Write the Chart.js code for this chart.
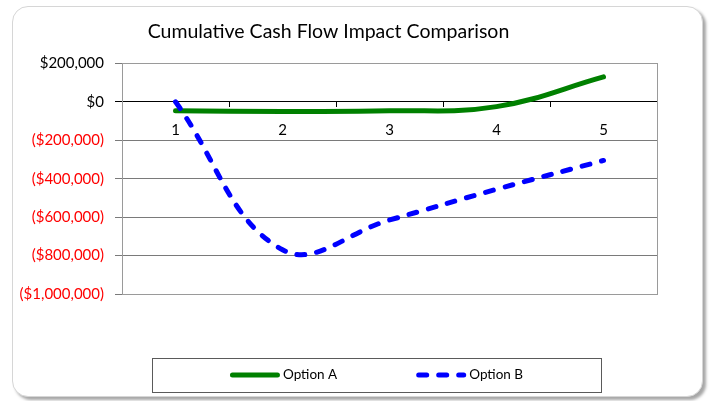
<!DOCTYPE html>
<html>
<head>
<meta charset="utf-8">
<script src="https://cdn.jsdelivr.net/npm/chart.js@4"></script>
<style>
  body { margin: 0; background: #fff; }
  #wrap { position: relative; width: 710px; height: 401px; overflow: hidden; }
  #frame {
    position: absolute; left: 12px; top: 6px; width: 689px; height: 389px;
    border: 1px solid #d6d6d6; border-radius: 16px;
    box-shadow: 3px 3px 3px rgba(0,0,0,0.35); background: #fff;
  }
  #myChart { position: absolute; left: 0; top: 0; }
</style>
</head>
<body>
<div id="wrap">
  <div id="frame"></div>
  <canvas id="myChart" width="710" height="401"></canvas>
</div>
<script>
// chart data
var years = ['1', '2', '3', '4', '5'];
var optionA = [-47000, -50000, -47000, -25000, 130000];
var optionB = [0, -770000, -615000, -455000, -305000];
var seriesNames = ['Option A', 'Option B'];
var yMin = -1000000, yMax = 200000, yStep = 200000;

function money(v) {
    var s = '$' + Math.abs(v).toLocaleString('en-US');
    return v < 0 ? '(' + s + ')' : s;
}

// grey frame round the plot area
var plotFrame = {
    id: 'plotFrame',
    beforeDatasetsDraw(chart) {
        var a = chart.chartArea, ctx = chart.ctx;
        ctx.save();
        ctx.strokeStyle = '#9a9a9a';
        ctx.lineWidth = 1;
        ctx.strokeRect(Math.round(a.left) + 0.5, Math.round(a.top) + 0.5,
            Math.round(a.right - a.left), Math.round(a.bottom - a.top));
        ctx.restore();
    }
};

// excel style legend in a box under the plot (chart.js legend can't dash a line sample)
var boxLegend = {
    id: 'boxLegend',
    afterDraw(chart) {
        var a = chart.chartArea, ctx = chart.ctx;
        var left = Math.round(a.left + 30), right = Math.round(a.right - 56);
        var cy = Math.round(a.bottom + 81);
        ctx.save();
        ctx.strokeStyle = '#5a5a5a';
        ctx.lineWidth = 1;
        ctx.strokeRect(left + 0.5, cy - 17 + 0.5, right - left, 34);

        ctx.font = '13.5px Lato';
        var sample = 50, gap = 3, between = 79;
        var sets = chart.data.datasets;
        var total = 0;
        sets.forEach(function (d, i) {
            total += sample + gap + ctx.measureText(d.label).width + (i ? between : 0);
        });
        var x = (left + right) / 2 - total / 2;
        sets.forEach(function (d) {
            ctx.beginPath();
            ctx.strokeStyle = d.borderColor;
            ctx.lineWidth = d.borderWidth;
            ctx.lineCap = 'round';
            ctx.setLineDash(d.borderDash || []);
            ctx.moveTo(x + 2.5, cy);
            ctx.lineTo(x + sample - 2.5, cy);
            ctx.stroke();
            ctx.setLineDash([]);
            ctx.fillStyle = '#000';
            ctx.textBaseline = 'middle';
            ctx.fillText(d.label, x + sample + gap, cy);
            x += sample + gap + ctx.measureText(d.label).width + between;
        });
        ctx.restore();
    }
};

var ctx = document.getElementById('myChart').getContext('2d');
var myChart = new Chart(ctx, {
    type: 'line',
    data: {
        labels: years,
        datasets: [{
            label: seriesNames[0],
            data: optionA,
            borderColor: '#008000',
            backgroundColor: '#008000',
            borderWidth: 5,
            borderCapStyle: 'round',
            tension: 0.4,
            pointRadius: 0,
            fill: false,
            order: 2
        },
        {
            label: seriesNames[1],
            data: optionB,
            borderColor: '#0000ff',
            backgroundColor: '#0000ff',
            borderWidth: 5,
            borderDash: [8, 12],
            borderCapStyle: 'round',
            tension: 0.4,
            pointRadius: 0,
            fill: false,
            order: 1
        }]
    },
    options: {
        responsive: false,
        animation: false,
        devicePixelRatio: 1,
        layout: { padding: { left: 0, right: 53, top: 10, bottom: 107 } },
        plugins: {
            title: {
                display: true,
                text: 'Cumulative Cash Flow Impact Comparison',
                color: '#000',
                font: { family: 'Lato', size: 19.5, weight: 'normal' },
                padding: { top: 10, bottom: 20 }
            },
            legend: { display: false },
            tooltip: { enabled: false }
        },
        scales: {
            x: {
                type: 'category',
                position: { y: 0 },
                offset: true,
                grid: { offset: true, drawOnChartArea: false, tickLength: 5, color: '#000' },
                border: { color: '#000', width: 1 },
                ticks: { color: '#000', padding: 14, font: { family: 'Lato', size: 15 }, maxRotation: 0 }
            },
            y: {
                min: yMin,
                max: yMax,
                afterFit: (scale) => { scale.width = 122; },
                grid: {
                    color: (c) => c.tick && c.tick.value === 0 ? '#000' : '#7a7a7a',
                    tickLength: 7
                },
                border: { color: '#555', width: 1 },
                ticks: {
                    stepSize: yStep,
                    padding: 11,
                    font: { family: 'Lato', size: 15 },
                    color: (c) => c.tick.value < 0 ? '#ff0000' : '#000',
                    callback: (v) => money(v)
                }
            }
        }
    },
    plugins: [plotFrame, boxLegend]
});
</script>
</body>
</html>
